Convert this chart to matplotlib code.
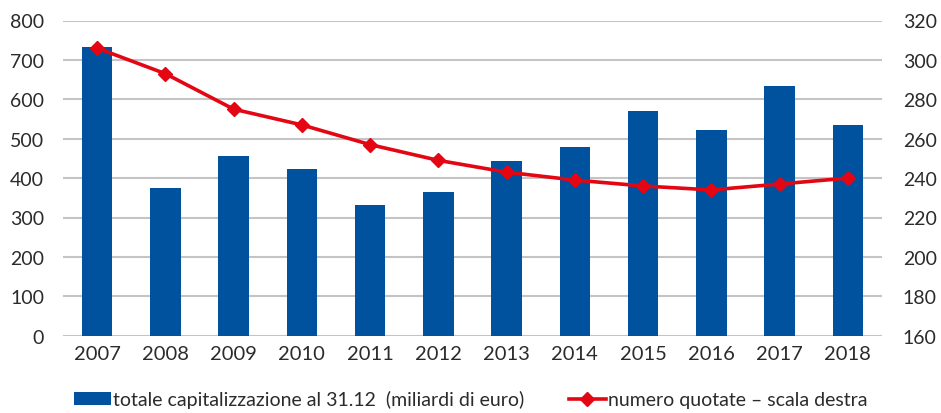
import matplotlib.pyplot as plt
import numpy as np

years = ["2007", "2008", "2009", "2010", "2011", "2012",
         "2013", "2014", "2015", "2016", "2017", "2018"]
capitalizzazione = [733, 376, 457, 423, 332, 364, 444, 480, 570, 522, 635, 536]
quotate = [306, 293, 275, 267, 257, 249, 243, 239, 236, 234, 237, 240]

blue = "#00529f"
red = "#e30613"
grid = "#c4c4c4"
text = "#2b2b2b"

plt.rcParams["font.family"] = ["Lato", "DejaVu Sans"]

fig = plt.figure(figsize=(9.41, 4.14), dpi=100)
ax = fig.add_axes([63 / 941, 1 - 336.7 / 414, (882 - 63) / 941, (336.7 - 21.5) / 414])
ax2 = ax.twinx()

x = np.arange(len(years))
bars = ax.bar(x, capitalizzazione, width=0.45, color=blue, zorder=2,
              label="totale capitalizzazione al 31.12  (miliardi di euro)")
line, = ax2.plot(x, quotate, color=red, lw=2.6, marker="D", ms=7, zorder=3,
                 label="numero quotate \u2013 scala destra")

ax.set_xlim(-0.5, len(years) - 0.5)
ax.set_ylim(0, 800)
ax.set_yticks(range(0, 801, 100))
ax2.set_ylim(160, 320)
ax2.set_yticks(range(160, 321, 20))
ax.set_xticks(x)
ax.set_xticklabels(years)

ax.yaxis.grid(True, color=grid, lw=1.5, zorder=0)
ax.set_axisbelow(True)

for a in (ax, ax2):
    for s in a.spines.values():
        s.set_visible(False)
    a.tick_params(length=0, labelsize=14, colors=text)
ax.tick_params(axis="y", pad=13.5)
ax2.tick_params(axis="y", pad=15)
ax.tick_params(axis="x", pad=7, labelsize=14.5)

fig.legend(handles=[bars, line], loc="center", bbox_to_anchor=(0.5, 0.033),
           ncol=2, frameon=False, fontsize=14, handlelength=1.9,
           handletextpad=0.1, columnspacing=2.3, labelcolor=text)

fig.savefig("out.png", dpi=100)
